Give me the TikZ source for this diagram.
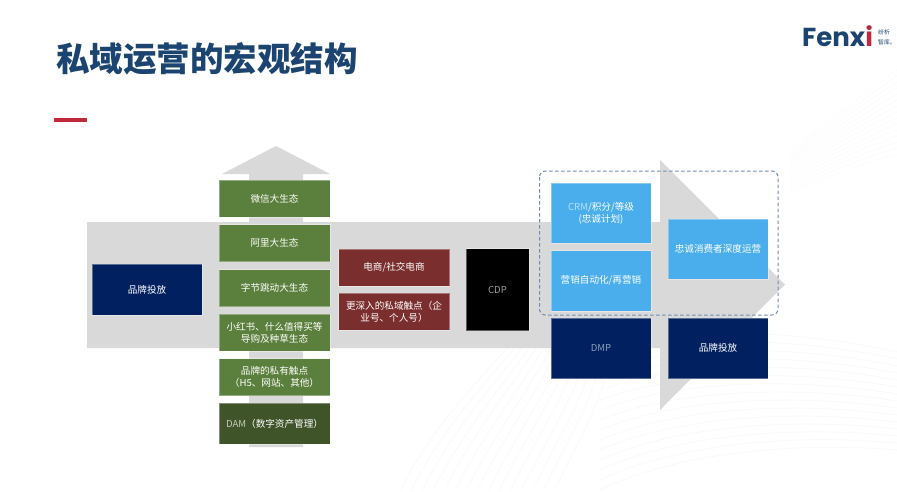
\documentclass[tikz,border=0pt]{standalone}
\usepackage{fontspec}
\setmainfont{Noto Sans CJK SC}
\newfontfamily\logofont{Poppins}
\definecolor{bandgrey}{HTML}{D9D9D9}
\definecolor{navy}{HTML}{002060}
\definecolor{leaf}{HTML}{5B7F3C}
\definecolor{darkleaf}{HTML}{3F5428}
\definecolor{wine}{HTML}{7B2E2E}
\definecolor{sky}{HTML}{4AAEEC}
\definecolor{titleblue}{HTML}{1B4570}
\definecolor{accentred}{HTML}{C0283C}
\definecolor{dashblue}{HTML}{6F8DB0}
\definecolor{faint}{HTML}{F6F6F6}
\definecolor{fainter}{HTML}{FAFAFA}
\tikzset{
  box/.style={draw=white,draw opacity=.35,line width=.5pt,inner sep=2pt,outer sep=0pt,align=center,
    text=white,font=\fontsize{9.6pt}{12pt}\selectfont,anchor=north west},
  greenbox/.style={box,fill=leaf,minimum width=111pt,minimum height=37pt,text width=103pt},
  navybox/.style={box,fill=navy,minimum width=110pt,text width=100pt},
  redbox/.style={box,fill=wine,minimum width=111pt,minimum height=37pt,text width=106pt},
  skybox/.style={box,fill=sky,minimum width=100pt,text width=94pt},
  band/.style={fill=bandgrey,draw=none},
  logosubtext/.style={anchor=west,inner sep=0pt,text=titleblue,font=\fontsize{5.8pt}{6.5pt}\selectfont},
}
\begin{document}
\begin{tikzpicture}[x=1pt,y=-1pt]
\useasboundingbox (0,0) rectangle (897,491);
\fill[white] (0,0) rectangle (897,491);
% faint background lines
\begin{scope}
\clip (0,0) rectangle (897,491);
\foreach \i in {0,...,14}{
  \draw[faint,line width=.4pt] ({400+\i*11},491) .. controls ({430+\i*11},430) and ({470+\i*10},390) .. ({510+\i*7},345);
  \draw[faint,line width=.4pt] (600,{350+\i*10}) .. controls (680,{325+\i*9}) and (800,{330+\i*8}) .. (897,{352+\i*7});
  \draw[fainter,line width=.4pt] (790,{150+\i*3}) .. controls (830,{120+\i*4}) and (870,{90+\i*5}) .. (897,{70+\i*6});
}
\end{scope}
% grey arrows
\fill[band] (87,222) -- (660,222) -- (660,160) -- (785,284.5) -- (660,410) -- (660,348) -- (87,348) -- cycle;
\fill[band] (249,447) -- (249,174) -- (222,174) -- (276,146) -- (330,174) -- (303,174) -- (303,447) -- cycle;
% title and accent
\node[anchor=west,inner sep=0pt,text=titleblue,font=\fontsize{33.5pt}{38pt}\bfseries\selectfont] (title) at (56,59) {私域运营的宏观结构};
\fill[accentred] (54,118) rectangle (87,121.5);
% logo
\node[anchor=west,inner sep=0pt,text=titleblue,font=\logofont\fontsize{26pt}{30pt}\bfseries\selectfont] (logo) at (802,36) {Fenx\textcolor{accentred}{i}};
\node[logosubtext] (logosubA) at (878,32.5) {纷析};
\node[logosubtext] (logosubB) at (878,42.5) {智库。};
% left column
\node[navybox,minimum height=51pt] (brandL) at (92,264) {品牌投放};
\node[greenbox] (wechat) at (219,180) {微信大生态};
\node[greenbox] (ali) at (219,224.5) {阿里大生态};
\node[greenbox] (byte) at (219,269.5) {字节跳动大生态};
\node[greenbox] (xhs) at (219,314) {小红书、什么值得买等\\导购及种草生态};
\node[greenbox] (own) at (219,358.5) {品牌的私有触点\\（H5、网站、其他）};
\node[greenbox,fill=darkleaf,minimum height=41pt] (dam) at (219,403) {\textcolor{white!70!darkleaf}{DAM}（数字资产管理）};
\node[redbox] (shop) at (338.5,249) {电商/社交电商};
\node[redbox] (deep) at (338.5,293) {更深入的私域触点（企\\业号、个人号）};
\node[box,fill=black,minimum width=63pt,minimum height=82pt,text=white!60!black] (cdp) at (466,248.5) {CDP};
% right columns
\node[skybox,minimum height=60pt] (crm) at (551,183) {\textcolor{white!60!sky}{CRM}/积分/等级\\(忠诚计划)};
\node[skybox,minimum height=60.5pt] (auto) at (551,250.5) {营销自动化/再营销};
\node[skybox,minimum height=60pt] (loyal) at (668,219) {忠诚消费者深度运营};
\node[box,fill=navy,minimum width=100pt,minimum height=60.5pt,text=white!55!navy] (dmp) at (551,318) {DMP};
\node[box,fill=navy,minimum width=100pt,minimum height=60.5pt] (brandR) at (668,318) {品牌投放};
% dashed frame
\draw[dashblue,line width=1pt,dash pattern=on 3.5pt off 2.5pt,rounded corners=6pt] (539.5,171) rectangle (778,315);
\end{tikzpicture}
\end{document}
